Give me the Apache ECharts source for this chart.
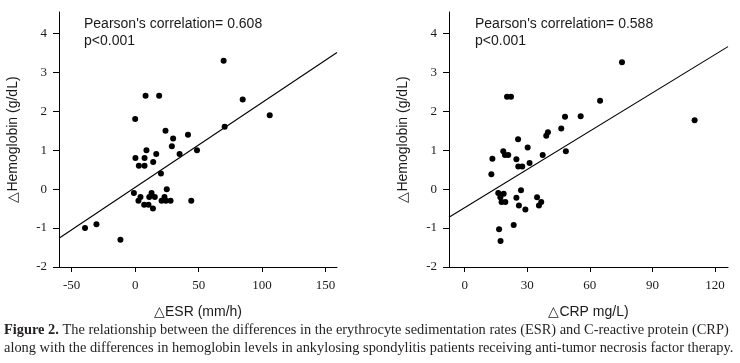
<!DOCTYPE html>
<html>
<head>
<meta charset="utf-8">
<script src="https://cdn.jsdelivr.net/npm/echarts@6/dist/echarts.min.js"></script>
<style>html,body{margin:0;padding:0;background:#fff;}#c{width:740px;height:363px;}</style>
</head>
<body>
<div id="c"></div>
<script>
// ---- data ----
const esrPoints = [
  [-39.5,-1.0],[-30.5,-0.9],[-11.6,-1.3],[-1,-0.1],[0,1.8],[0.2,0.8],[2.6,-0.3],[2.9,0.6],
  [4.2,-0.2],[7.4,0.6],[7.4,0.8],[7.1,-0.4],[8.2,2.4],[8.9,1.0],[10.5,-0.4],[11.1,-0.2],
  [12.9,-0.1],[14.2,0.7],[14,-0.5],[15.5,-0.2],[16.6,0.9],[18.9,2.4],[20.3,0.4],[20.8,-0.3],
  [23.1,-0.2],[24.2,-0.3],[23.9,1.5],[24.9,0],[27.9,-0.3],[28.9,1.1],[29.9,1.3],[35,0.9],
  [41.6,1.4],[44.2,-0.3],[48.7,1.0],[69.7,3.3],[70.5,1.6],[84.7,2.3],[106,1.9]
];
const esrFitLine = [[-60,-1.26],[159,3.51]];
const crpPoints = [
  [12.8,0.38],[13.3,0.78],[16.1,-0.1],[16.5,-1.03],[17.1,-0.21],[17.2,-1.33],[17.7,-0.33],
  [18.7,-0.12],[18.5,0.97],[19.5,-0.33],[19.3,0.88],[20.3,2.37],[22.2,2.37],[20.9,0.88],
  [24.8,0.77],[24.8,-0.22],[25.6,1.28],[25.7,0.58],[26.0,-0.42],[27.0,-0.03],[27.6,0.58],
  [23.5,-0.92],[29.1,-0.52],[30.2,1.07],[31.1,0.67],[34.7,-0.21],[35.6,-0.42],[36.7,-0.33],
  [37.4,0.88],[39.1,1.37],[39.9,1.46],[46.3,1.56],[48.1,1.86],[48.5,0.97],[55.6,1.87],
  [64.9,2.27],[75.4,3.26],[110.2,1.77]
];
const crpFitLine = [[-7.5,-0.72],[126.2,3.66]];
const esrTicks = [-50,0,50,100,150];
const crpTicks = [0,30,60,90,120];
const yTicks = [-2,-1,0,1,2,3,4];
const esrRange = [-60,159];
const crpRange = [-7.5,126.2];
const yRange = [-2,4.55];
const yName = '\u25B3Hemoglobin (g/dL)';
const esrName = '\u25B3ESR (mm/h)';
const crpName = '\u25B3CRP mg/L)';
const esrNote = "Pearson's correlation= 0.608\np<0.001";
const crpNote = "Pearson's correlation= 0.588\np<0.001";
const captionLine1 = 'The relationship between the differences in the erythrocyte sedimentation rates (ESR) and C-reactive protein (CRP)';
const captionLine2 = 'along with the differences in hemoglobin levels in ankylosing spondylitis patients receiving anti-tumor necrosis factor therapy.';

// ---- chart ----
const serif = '"Liberation Serif","Times New Roman",serif';
const sans = '"Liberation Sans",Arial,sans-serif';
const ink = '#1a1a1a';

function xAxisCfg(gi, range, ticks, name) {
  return {
    type: 'value', gridIndex: gi, min: range[0], max: range[1],
    name: name, nameLocation: 'middle', nameGap: 38,
    nameTextStyle: {fontFamily: sans, fontSize: 14, color: ink},
    axisLine: {show: true, onZero: false, lineStyle: {color: '#000', width: 1}},
    axisTick: {show: true, length: 5, customValues: ticks, lineStyle: {color: '#000'}},
    axisLabel: {customValues: ticks, margin: 12, fontFamily: serif, fontSize: 13, color: ink},
    splitLine: {show: false}
  };
}
function yAxisCfg(gi) {
  return {
    type: 'value', gridIndex: gi, min: yRange[0], max: yRange[1],
    name: yName, nameLocation: 'middle', nameGap: 39, nameRotate: 90,
    nameTextStyle: {fontFamily: sans, fontSize: 14, color: ink},
    axisLine: {show: true, onZero: false, lineStyle: {color: '#000', width: 1}},
    axisTick: {show: true, length: 6, customValues: yTicks, lineStyle: {color: '#000'}},
    axisLabel: {customValues: yTicks, margin: 12, fontFamily: serif, fontSize: 13, color: ink},
    splitLine: {show: false}
  };
}

const chart = echarts.init(document.getElementById('c'), null, {renderer: 'canvas'});
chart.setOption({
  animation: false,
  backgroundColor: '#fff',
  grid: [
    {left: 59, right: 403, top: 12, bottom: 96},
    {left: 449, right: 12, top: 12, bottom: 96}
  ],
  xAxis: [xAxisCfg(0, esrRange, esrTicks, esrName), xAxisCfg(1, crpRange, crpTicks, crpName)],
  yAxis: [yAxisCfg(0), yAxisCfg(1)],
  title: [
    {text: esrNote, left: 84, top: 16, padding: 0, textStyle: {fontFamily: sans, fontSize: 14, fontWeight: 'normal', color: ink, lineHeight: 16.5}},
    {text: crpNote, left: 475, top: 16, padding: 0, textStyle: {fontFamily: sans, fontSize: 14, fontWeight: 'normal', color: ink, lineHeight: 16.5}},
    {text: '{b|Figure 2.} ' + captionLine1 + '\n' + captionLine2, left: 4, top: 321, padding: 0,
     textStyle: {fontFamily: serif, fontSize: 14.4, fontWeight: 'normal', color: '#231f20', lineHeight: 18,
       rich: {b: {fontFamily: serif, fontSize: 14.4, fontWeight: 'bold', color: '#231f20', lineHeight: 18}}}}
  ],
  series: [
    {type: 'scatter', xAxisIndex: 0, yAxisIndex: 0, data: esrPoints, symbolSize: 6, itemStyle: {color: '#000', opacity: 1}},
    {type: 'line', xAxisIndex: 0, yAxisIndex: 0, data: esrFitLine, showSymbol: false, lineStyle: {color: '#000', width: 1.1}},
    {type: 'scatter', xAxisIndex: 1, yAxisIndex: 1, data: crpPoints, symbolSize: 6, itemStyle: {color: '#000', opacity: 1}},
    {type: 'line', xAxisIndex: 1, yAxisIndex: 1, data: crpFitLine, showSymbol: false, lineStyle: {color: '#000', width: 1.1}}
  ]
});
</script>
</body>
</html>
